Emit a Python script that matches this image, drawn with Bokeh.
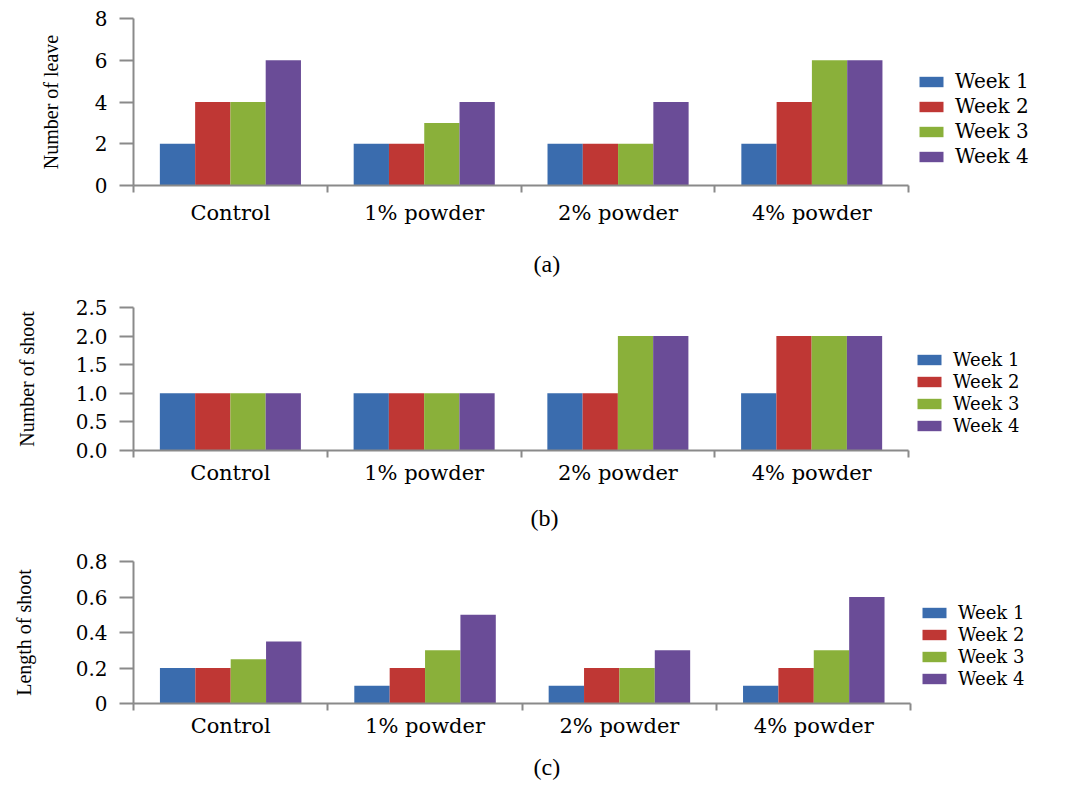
from bokeh.plotting import figure
from bokeh.models import FixedTicker, Legend, LegendItem, Title, ColumnDataSource
from bokeh.layouts import column
from bokeh.embed import file_html
from bokeh.resources import INLINE
from bokeh.transform import dodge

# ---------------- data ----------------
categories = ["Control", "1% powder", "2% powder", "4% powder"]
weeks = ["Week 1", "Week 2", "Week 3", "Week 4"]

leaves_w1 = [2, 2, 2, 2]
leaves_w2 = [4, 2, 2, 4]
leaves_w3 = [4, 3, 2, 6]
leaves_w4 = [6, 4, 4, 6]

shoots_w1 = [1, 1, 1, 1]
shoots_w2 = [1, 1, 1, 2]
shoots_w3 = [1, 1, 2, 2]
shoots_w4 = [1, 1, 2, 2]

length_w1 = [0.2, 0.1, 0.1, 0.1]
length_w2 = [0.2, 0.2, 0.2, 0.2]
length_w3 = [0.25, 0.3, 0.2, 0.3]
length_w4 = [0.35, 0.5, 0.3, 0.6]

leaves_ticks = [0, 2, 4, 6, 8]
leaves_tick_labels = ["0", "2", "4", "6", "8"]
shoots_ticks = [0, 0.5, 1.0, 1.5, 2.0, 2.5]
shoots_tick_labels = ["0.0", "0.5", "1.0", "1.5", "2.0", "2.5"]
length_ticks = [0, 0.2, 0.4, 0.6, 0.8]
length_tick_labels = ["0", "0.2", "0.4", "0.6", "0.8"]

colors = ["#3A6CAE", "#BF3734", "#8AB03A", "#6A4C97"]
AXIS = "#8A8A8A"
BAR_W = 0.182
W = 1054


def panel(series, ylabel, ticks, tick_labels, caption, height, b_top, b_bottom,
          b_left, axis_px, label_standoff, xlab_standoff, leg_font, leg_spacing,
          leg_loc, cap_offset, cap_standoff):
    n = len(categories)
    frame_w = W - b_left
    x_end = n * frame_w / axis_px
    p = figure(width=W, height=height, output_backend="svg", toolbar_location=None,
               x_range=(0, x_end), y_range=(ticks[0], ticks[-1]),
               min_border_top=b_top, min_border_bottom=b_bottom,
               min_border_left=b_left, min_border_right=0)
    p.outline_line_color = None
    p.xgrid.visible = False
    p.ygrid.visible = False
    p.background_fill_color = "white"

    data = {"pos": [i + 0.5 for i in range(n)]}
    for k, s in enumerate(series):
        data["w%d" % k] = s
    src = ColumnDataSource(data)

    items = []
    for k in range(4):
        off = (k - 1.5) * BAR_W
        r = p.vbar(x=dodge("pos", off), top="w%d" % k, bottom=0,
                   width=BAR_W, source=src, fill_color=colors[k], line_color=None)
        items.append(LegendItem(label=weeks[k], renderers=[r]))

    # x axis
    xa = p.xaxis[0]
    xa.bounds = (0, n)
    xa.ticker = FixedTicker(ticks=data["pos"], minor_ticks=list(range(n + 1)))
    xa.major_label_overrides = {data["pos"][i]: categories[i] for i in range(n)}
    xa.major_tick_line_color = None
    xa.major_tick_out = 0
    xa.major_tick_in = 0
    xa.minor_tick_out = 7
    xa.minor_tick_in = 0
    xa.minor_tick_line_color = AXIS
    xa.minor_tick_line_width = 2
    xa.axis_line_color = AXIS
    xa.axis_line_width = 2
    xa.major_label_standoff = xlab_standoff
    xa.major_label_text_font = "DejaVu Serif"
    xa.major_label_text_font_size = "21px"
    xa.major_label_text_color = "black"

    # y axis
    ya = p.yaxis[0]
    ya.ticker = FixedTicker(ticks=ticks)
    ya.major_label_overrides = {t: l for t, l in zip(ticks, tick_labels)}
    ya.major_tick_out = 14
    ya.major_tick_in = 0
    ya.major_tick_line_color = AXIS
    ya.major_tick_line_width = 2
    ya.minor_tick_line_color = None
    ya.axis_line_color = AXIS
    ya.axis_line_width = 2
    ya.major_label_standoff = 12
    ya.major_label_text_font = "DejaVu Serif"
    ya.major_label_text_font_size = "20px"
    ya.major_label_text_color = "black"
    ya.axis_label = ylabel
    ya.axis_label_text_font = "Liberation Serif"
    ya.axis_label_text_font_size = "20px"
    ya.axis_label_text_font_style = "normal"
    ya.axis_label_text_color = "black"
    ya.axis_label_standoff = label_standoff

    leg = Legend(items=items, location=leg_loc, glyph_width=30, glyph_height=13,
                 label_standoff=9, spacing=leg_spacing, padding=0, margin=0,
                 border_line_color=None, background_fill_alpha=0,
                 label_text_font="DejaVu Serif", label_text_font_size=leg_font,
                 label_text_color="black")
    p.add_layout(leg, "center")

    p.add_layout(Title(text=caption, align="left", offset=cap_offset, standoff=cap_standoff,
                       text_font="Liberation Serif", text_font_size="24px",
                       text_font_style="normal", text_color="black"), "below")
    return p


pa = panel([leaves_w1, leaves_w2, leaves_w3, leaves_w4], "Number of leave",
           leaves_ticks, leaves_tick_labels, "(a)", 297, 18, 112, 131, 777, 30, 8,
           "20px", 1, (783, 17), 400, 42)
pb = panel([shoots_w1, shoots_w2, shoots_w3, shoots_w4], "Number of shoot",
           shoots_ticks, shoots_tick_labels, "(b)", 249, 10, 96, 133, 775, 35, 3,
           "18px", 1, (781, 14), 397, 31)
pc = panel([length_w1, length_w2, length_w3, length_w4], "Length of shoot",
           length_ticks, length_tick_labels, "(c)", 245, 15, 88, 130, 780, 38, 3,
           "18px", 1, (786, 14), 400, 23)

layout = column(pa, pb, pc)
open("out.html", "w").write(file_html(layout, INLINE))
